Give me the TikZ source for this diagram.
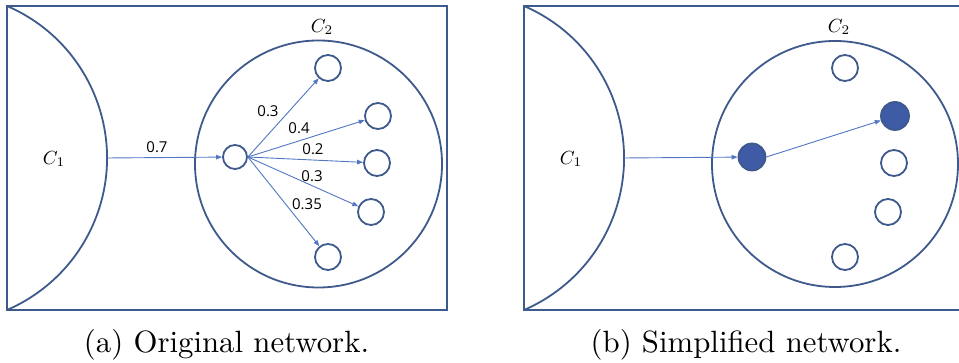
\documentclass[tikz,border=0pt]{standalone}
\usepackage{fontspec}
\newfontfamily\lblfont{Open Sans}
\usetikzlibrary{arrows.meta}
\definecolor{outl}{RGB}{62,89,140}
\definecolor{arrb}{RGB}{80,118,196}
\definecolor{nfill}{RGB}{63,91,166}
\tikzset{
  frame/.style={draw=outl, line width=2pt},
  bigc/.style={draw=outl, line width=1.8pt},
  smallnode/.style={circle, draw=outl, line width=1.8pt, minimum size=24pt, inner sep=0pt, fill=white},
  filled/.style={smallnode, fill=nfill, minimum size=27pt},
  link/.style={draw=arrb, line width=0.9pt, -{Triangle[length=6pt,width=4.5pt]}},
  wlab/.style={font=\lblfont\fontsize{15}{17}\selectfont, inner sep=0pt},
  clab/.style={inner sep=0pt, scale=1.9},
  captext/.style={inner sep=0pt, scale=3.08, anchor=base}
}
\begin{document}
\begin{tikzpicture}[x=1pt,y=1pt]
\useasboundingbox (0,0) rectangle (959,363);
% ---------- left panel ----------
\draw[frame] (7,357) rectangle (447,53);
\draw[bigc] (7,357) arc[start angle=66.7, end angle=-66.7, radius=165.5];
\coordinate (c1a) at (107,205);
\draw[bigc] (318.5,199) circle[radius=123.5];
\node[clab] (c1lab) at (54,204) {$C_1$};
\node[clab] (c2lab) at (322,336) {$C_2$};
\node[smallnode, minimum size=24pt] (s) at (235,206) {};
\node[smallnode, minimum size=26pt] (t1) at (328,295) {};
\node[smallnode, minimum size=26pt] (t2) at (378,247) {};
\node[smallnode, minimum size=26pt] (t3) at (377,200) {};
\node[smallnode, minimum size=26pt] (t4) at (371,151) {};
\node[smallnode, minimum size=26pt] (t5) at (328,106) {};
\draw[link] (c1a) -- (s);
\draw[link] (s.east) -- (t1);
\draw[link] (s.east) -- (t2);
\draw[link] (s.east) -- (t3);
\draw[link] (s.east) -- (t4);
\draw[link] (s.east) -- (t5);
\node[wlab] (w0) at (157,216) {0.7};
\node[wlab] (w1) at (268,252) {0.3};
\node[wlab] (w2) at (299,235) {0.4};
\node[wlab] (w3) at (313,214) {0.2};
\node[wlab] (w4) at (312,187) {0.3};
\node[wlab] (w5) at (307,159) {0.35};
\node[captext] (capa) at (226.5,10) {(a) Original network.};
% ---------- right panel ----------
\draw[frame] (970,357) -- (524,357) -- (524,53) -- (970,53);
\draw[bigc] (524,357) arc[start angle=66.7, end angle=-66.7, radius=165.5];
\coordinate (c1b) at (624,205);
\draw[bigc] (835,199) circle[radius=123];
\node[clab] (c1labb) at (571,204) {$C_1$};
\node[clab] (c2labb) at (839,336) {$C_2$};
\node[filled] (rs) at (752,206) {};
\node[smallnode, minimum size=26pt] (r1) at (845,295) {};
\node[filled, minimum size=28pt] (r2) at (895,247) {};
\node[smallnode, minimum size=26pt] (r3) at (894,200) {};
\node[smallnode, minimum size=26pt] (r4) at (888,151) {};
\node[smallnode, minimum size=26pt] (r5) at (845,106) {};
\draw[link] (c1b) -- (rs);
\draw[link] (rs.east) -- (r2);
\node[captext] (capb) at (746,10) {(b) Simplified network.};
\end{tikzpicture}
\end{document}
